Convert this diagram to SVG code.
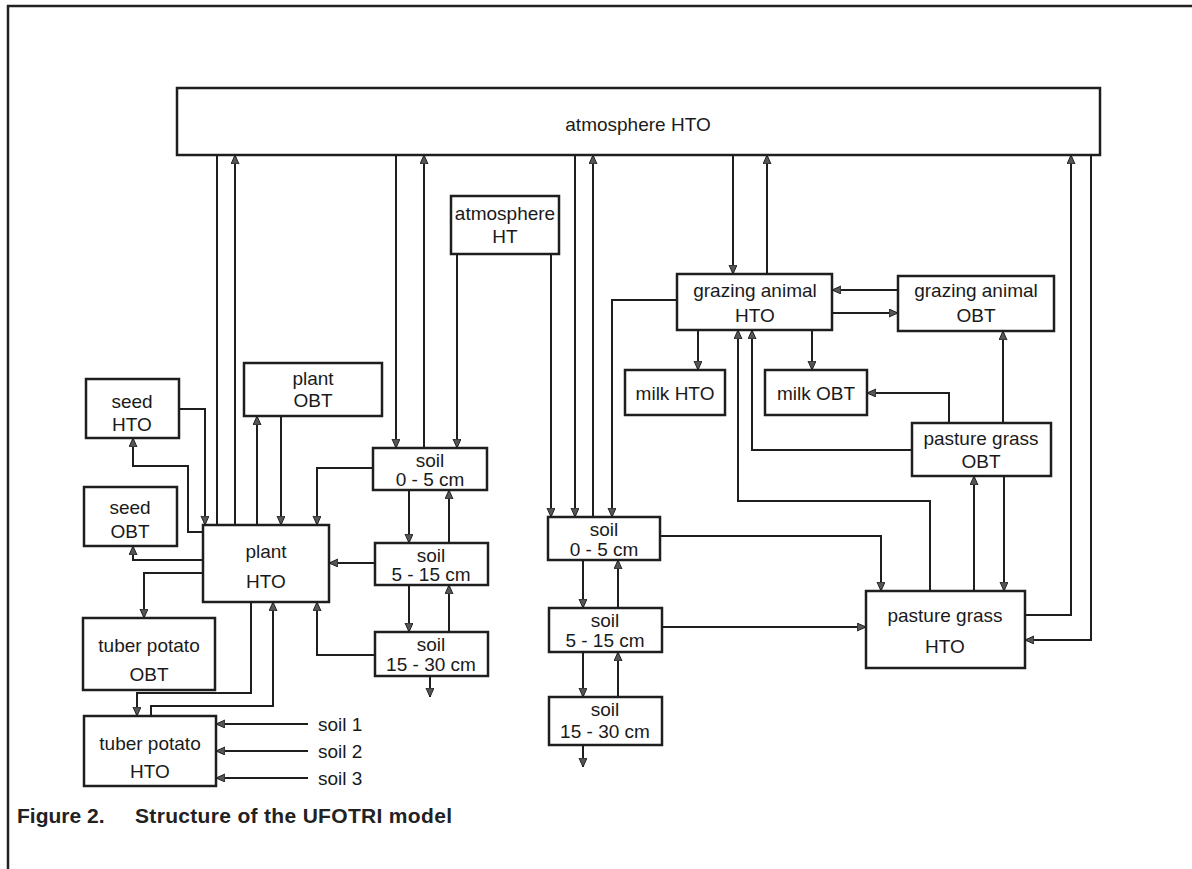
<svg xmlns="http://www.w3.org/2000/svg" width="1192" height="869" viewBox="0 0 1192 869">
<defs>
<marker id="ah" markerUnits="userSpaceOnUse" markerWidth="10" markerHeight="10" refX="9" refY="4" orient="auto">
<path d="M0,0 L9,4 L0,8 Z" fill="#555" stroke="#222" stroke-width="1"/>
</marker>
</defs>
<style>
.box{fill:#fff;stroke:#1e1e1e;stroke-width:2.5}
.t{font-family:"Liberation Sans",Arial,sans-serif;font-size:19px;fill:#1a1a1a;text-anchor:middle}
.s{font-family:"Liberation Sans",Arial,sans-serif;font-size:19px;fill:#1a1a1a}
.c{fill:none;stroke:#1e1e1e;stroke-width:2}
.a{marker-end:url(#ah)}
.cap{font-family:"Liberation Sans",Arial,sans-serif;font-size:21px;font-weight:bold;fill:#222}
</style>
<rect width="1192" height="869" fill="#fff"/>
<path d="M8,869 V6 H1192" fill="none" stroke="#222" stroke-width="2.5"/>

<g id="connectors">
<path class="c" d="M217,155 V525"/>
<path class="c a" d="M235,525 V155"/>
<path class="c a" d="M396,155 V448"/>
<path class="c a" d="M424,448 V155"/>
<path class="c a" d="M457,254 V448"/>
<path class="c a" d="M551,254 V517"/>
<path class="c a" d="M575,155 V517"/>
<path class="c a" d="M593,517 V155"/>
<path class="c a" d="M677,300 H612 V517"/>
<path class="c a" d="M733,155 V274"/>
<path class="c a" d="M767,274 V155"/>
<path class="c a" d="M898,290 H832"/>
<path class="c a" d="M832,313 H898"/>
<path class="c a" d="M698,330 V370"/>
<path class="c a" d="M812,330 V370"/>
<path class="c a" d="M930,591 V501 H738 V330"/>
<path class="c a" d="M912,450 H752 V330"/>
<path class="c a" d="M949,423 V393 H867"/>
<path class="c a" d="M1003,423 V331"/>
<path class="c a" d="M974,591 V476"/>
<path class="c a" d="M1004,476 V591"/>
<path class="c a" d="M660,536 H881 V591"/>
<path class="c a" d="M662,627 H866"/>
<path class="c a" d="M1025,615 H1071 V155"/>
<path class="c a" d="M1091,155 V640 H1025"/>
<path class="c a" d="M583,560 V608"/>
<path class="c a" d="M618,608 V560"/>
<path class="c a" d="M583,652 V697"/>
<path class="c a" d="M618,697 V652"/>
<path class="c a" d="M583,745 V767"/>
<path class="c a" d="M409,490 V543"/>
<path class="c a" d="M449,543 V490"/>
<path class="c a" d="M409,585 V632"/>
<path class="c a" d="M449,632 V585"/>
<path class="c a" d="M430,676 V697"/>
<path class="c a" d="M373,468 H317 V525"/>
<path class="c a" d="M375,563 H329"/>
<path class="c a" d="M375,655 H317 V602"/>
<path class="c a" d="M257,525 V416"/>
<path class="c a" d="M281,416 V525"/>
<path class="c a" d="M179,409 H205 V525"/>
<path class="c a" d="M203,532 H188 V466 H133 V438"/>
<path class="c a" d="M203,560 H133 V546"/>
<path class="c a" d="M203,573 H144 V618"/>
<path class="c a" d="M251,602 V693 H137 V716"/>
<path class="c a" d="M151,716 V706 H273 V602"/>
<path class="c a" d="M308,724 H216"/>
<path class="c a" d="M308,751 H216"/>
<path class="c a" d="M308,778 H216"/>
</g>

<g id="atm-hto"><rect class="box" x="177" y="88" width="923" height="67"/><text class="t" x="638" y="131">atmosphere  HTO</text></g>
<g id="atm-ht"><rect class="box" x="451" y="196" width="108" height="58"/><text class="t" x="505" y="220">atmosphere</text><text class="t" x="505" y="243">HT</text></g>
<g id="seed-hto"><rect class="box" x="86" y="379" width="93" height="59"/><text class="t" x="132" y="408">seed</text><text class="t" x="132" y="431">HTO</text></g>
<g id="seed-obt"><rect class="box" x="84" y="487" width="93" height="59"/><text class="t" x="130" y="514">seed</text><text class="t" x="130" y="538">OBT</text></g>
<g id="plant-obt"><rect class="box" x="244" y="363" width="138" height="53"/><text class="t" x="313" y="385">plant</text><text class="t" x="313" y="407">OBT</text></g>
<g id="plant-hto"><rect class="box" x="203" y="525" width="126" height="77"/><text class="t" x="266" y="558">plant</text><text class="t" x="266" y="588">HTO</text></g>
<g id="tuber-obt"><rect class="box" x="83" y="618" width="132" height="72"/><text class="t" x="149" y="652">tuber  potato</text><text class="t" x="149" y="681">OBT</text></g>
<g id="tuber-hto"><rect class="box" x="84" y="716" width="132" height="70"/><text class="t" x="150" y="750">tuber  potato</text><text class="t" x="150" y="778">HTO</text></g>
<g id="soil-labels"><text class="s" x="318" y="731">soil 1</text><text class="s" x="318" y="758">soil 2</text><text class="s" x="318" y="785">soil 3</text></g>
<g id="soilL-0-5"><rect class="box" x="373" y="448" width="114" height="42"/><text class="t" x="430" y="467">soil</text><text class="t" x="430" y="486">0 - 5 cm</text></g>
<g id="soilL-5-15"><rect class="box" x="375" y="543" width="113" height="42"/><text class="t" x="431" y="562">soil</text><text class="t" x="431" y="581">5 - 15 cm</text></g>
<g id="soilL-15-30"><rect class="box" x="375" y="632" width="113" height="44"/><text class="t" x="431" y="651">soil</text><text class="t" x="431" y="671">15 - 30 cm</text></g>
<g id="soilR-0-5"><rect class="box" x="548" y="517" width="112" height="43"/><text class="t" x="604" y="536">soil</text><text class="t" x="604" y="556">0 - 5 cm</text></g>
<g id="soilR-5-15"><rect class="box" x="549" y="608" width="113" height="44"/><text class="t" x="605" y="627">soil</text><text class="t" x="605" y="647">5 - 15 cm</text></g>
<g id="soilR-15-30"><rect class="box" x="549" y="697" width="113" height="48"/><text class="t" x="605" y="716">soil</text><text class="t" x="605" y="738">15 - 30 cm</text></g>
<g id="graz-hto"><rect class="box" x="677" y="274" width="155" height="56"/><text class="t" x="755" y="297">grazing animal</text><text class="t" x="755" y="322">HTO</text></g>
<g id="graz-obt"><rect class="box" x="898" y="276" width="156" height="55"/><text class="t" x="976" y="297">grazing animal</text><text class="t" x="976" y="322">OBT</text></g>
<g id="milk-hto"><rect class="box" x="625" y="370" width="100" height="45"/><text class="t" x="675" y="400">milk HTO</text></g>
<g id="milk-obt"><rect class="box" x="765" y="370" width="102" height="45"/><text class="t" x="816" y="400">milk OBT</text></g>
<g id="past-obt"><rect class="box" x="912" y="423" width="139" height="53"/><text class="t" x="981" y="445">pasture grass</text><text class="t" x="981" y="468">OBT</text></g>
<g id="past-hto"><rect class="box" x="866" y="591" width="159" height="77"/><text class="t" x="945" y="622">pasture grass</text><text class="t" x="945" y="653">HTO</text></g>

<g id="caption">
<text class="cap" x="17" y="823">Figure  2.</text>
<text class="cap" x="135" y="823" textLength="317" lengthAdjust="spacing">Structure of the UFOTRI model</text>
</g>
</svg>
